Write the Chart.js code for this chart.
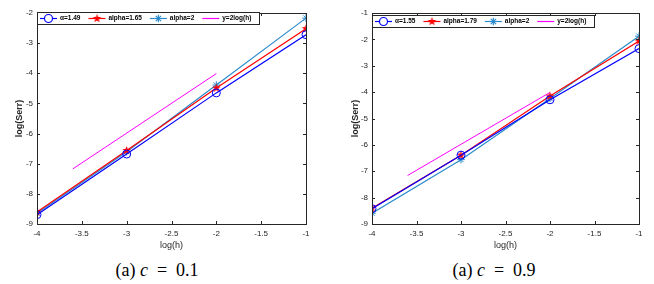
<!DOCTYPE html>
<html>
<head>
<meta charset="utf-8">
<script src="https://cdn.jsdelivr.net/npm/chart.js@4.4.1/dist/chart.umd.min.js"></script>
<style>
  body { margin: 0; background: #fff; width: 654px; height: 284px; position: relative; overflow: hidden; }
  .wrap { position: absolute; top: 0; height: 252px; }
  .cap { position: absolute; top: 260px; font-family: "Liberation Serif", "DejaVu Serif", serif; font-size: 18px; color: #000; white-space: nowrap; transform: translateX(-50%); }
  .cap i { font-style: italic; }
</style>
</head>
<body>
<div class="wrap" style="left:0;width:320px"><canvas id="chartA"></canvas></div>
<div class="wrap" style="left:327px;width:327px"><canvas id="chartB"></canvas></div>
<div class="cap" style="left:157px">(a) <i>c</i>&nbsp;&nbsp;=&nbsp;&nbsp;0.1</div>
<div class="cap" style="left:494px">(a) <i>c</i>&nbsp;&nbsp;=&nbsp;&nbsp;0.9</div>
<script>
// log(h) values
const hVals = [-4, -3, -2, -1];
const xTicks = [-4, -3.5, -3, -2.5, -2, -1.5, -1];

// c = 0.1
const labelsA = ['\u03b1=1.49', 'alpha=1.65', 'alpha=2', 'y=2log(h)'];
const errA1 = [-8.69, -6.68, -4.65, -2.72];
const errA2 = [-8.60, -6.56, -4.49, -2.52];
const errA3 = [-8.64, -6.60, -4.39, -2.17];
const refXA = [-3.6, -2];
const refYA = [-7.17, -4.01];

// c = 0.9
const labelsB = ['\u03b1=1.55', 'alpha=1.79', 'alpha=2', 'y=2log(h)'];
const errB1 = [-8.42, -6.39, -4.29, -2.35];
const errB2 = [-8.40, -6.39, -4.15, -2.06];
const errB3 = [-8.59, -6.56, -4.24, -1.88];
const refXB = [-3.6, -2];
const refYB = [-7.16, -4.01];

const BLUE = '#0000ff', RED = '#ff0000', CYAN = '#2a8bcc', MAG = '#ff00ff';

// filled pentagram marker
function pentagram(color, r) {
    const c = document.createElement('canvas');
    const s = Math.ceil(r * 2 + 2);
    c.width = s; c.height = s;
    const g = c.getContext('2d');
    g.fillStyle = color;
    g.beginPath();
    for (let i = 0; i < 10; i++) {
        const rad = i % 2 ? r * 0.42 : r;
        const a = -Math.PI / 2 + i * Math.PI / 5;
        g.lineTo(s / 2 + rad * Math.cos(a), s / 2 + rad * Math.sin(a));
    }
    g.closePath();
    g.fill();
    return c;
}
const starImg = pentagram(RED, 4.5);

const pts = (xs, ys) => xs.map((x, i) => ({ x: x, y: ys[i] }));

// box + inward ticks like matlab
const boxPlugin = {
    id: 'box',
    afterDraw(chart) {
        const { ctx, chartArea: a, scales } = chart;
        ctx.save();
        ctx.strokeStyle = '#262626';
        ctx.lineWidth = 1;
        ctx.strokeRect(a.left + 0.5, a.top + 0.5, a.right - a.left, a.bottom - a.top);
        ctx.beginPath();
        scales.x.ticks.forEach(t => {
            const px = Math.round(scales.x.getPixelForValue(t.value)) + 0.5;
            ctx.moveTo(px, a.bottom); ctx.lineTo(px, a.bottom - 3);
            ctx.moveTo(px, a.top); ctx.lineTo(px, a.top + 3);
        });
        scales.y.ticks.forEach(t => {
            const py = Math.round(scales.y.getPixelForValue(t.value)) + 0.5;
            ctx.moveTo(a.left, py); ctx.lineTo(a.left + 3, py);
            ctx.moveTo(a.right, py); ctx.lineTo(a.right - 3, py);
        });
        ctx.stroke();
        ctx.restore();
    }
};

// legend box inside the plot, top-left
const insideLegend = {
    id: 'insideLegend',
    afterDraw(chart, args, opts) {
        const { ctx, chartArea: a } = chart;
        ctx.save();
        ctx.font = 'bold 6.5px "Liberation Sans", Arial, sans-serif';
        const sets = chart.data.datasets;
        let w = 3;
        sets.forEach(d => { w += 17 + 3 + ctx.measureText(d.label).width + 8; });
        const x0 = Math.round(a.left), y0 = Math.round(a.top + opts.dy), h = 12;
        ctx.fillStyle = '#fff';
        ctx.fillRect(x0, y0, w, h);
        ctx.strokeStyle = '#262626';
        ctx.lineWidth = 1;
        ctx.strokeRect(x0 + 0.5, y0 + 0.5, Math.round(w), h);
        let x = x0 + 3;
        const cy = y0 + h / 2 + 0.5;
        sets.forEach(d => {
            ctx.strokeStyle = d.borderColor;
            ctx.lineWidth = 1.2;
            ctx.beginPath(); ctx.moveTo(x, cy); ctx.lineTo(x + 17, cy); ctx.stroke();
            if (d.pointRadius > 0) {
                Chart.helpers.drawPoint(ctx, {
                    pointStyle: d.pointStyle, radius: d.pointRadius, borderWidth: d.pointBorderWidth || 1, rotation: 0
                }, x + 8.5, cy);
            }
            x += 20;
            ctx.fillStyle = '#000';
            ctx.textBaseline = 'middle';
            ctx.fillText(d.label, x, cy);
            x += ctx.measureText(d.label).width + 8;
        });
        ctx.restore();
    }
};

function makeChart(id, labels, s1, s2, s3, rx, ry, yMin, yMax, leftW, padR, titlePad, legDy) {
    const sets = [
        { label: labels[0], data: pts(hVals, s1), borderColor: BLUE, backgroundColor: 'rgba(0,0,0,0)', pointBorderColor: BLUE, pointStyle: 'circle', pointRadius: 4, pointBorderWidth: 1, borderWidth: 1.2 },
        { label: labels[1], data: pts(hVals, s2), borderColor: RED, backgroundColor: RED, pointBorderColor: RED, pointStyle: starImg, pointRadius: 4.5, borderWidth: 1.2 },
        { label: labels[2], data: pts(hVals, s3), borderColor: CYAN, backgroundColor: CYAN, pointBorderColor: CYAN, pointStyle: 'star', pointRadius: 3.8, pointBorderWidth: 1, borderWidth: 1.2 },
        { label: labels[3], data: pts(rx, ry), borderColor: MAG, backgroundColor: MAG, pointRadius: 0, borderWidth: 1 }
    ];
    sets.forEach(d => { d.fill = false; d.tension = 0; d.pointHoverRadius = d.pointRadius; });
    const tickFont = { family: '"Liberation Sans", Arial, sans-serif', size: 8 };
    return new Chart(document.getElementById(id), {
        type: 'line',
        data: { datasets: sets },
        options: {
            responsive: true,
            maintainAspectRatio: false,
            animation: false,
            events: [],
            layout: { padding: { top: 13, right: padR, left: 0, bottom: 0 } },
            plugins: { legend: { display: false }, tooltip: { enabled: false }, insideLegend: { dy: legDy } },
            scales: {
                x: {
                    type: 'linear', min: -4, max: -1,
                    afterBuildTicks: s => { s.ticks = xTicks.map(v => ({ value: v })); },
                    afterFit: s => { s.height = 28; },
                    grid: { display: false, drawTicks: false, tickLength: 0 },
                    border: { display: false },
                    ticks: { font: tickFont, color: '#262626', padding: 5, maxRotation: 0, callback: v => String(v) },
                    title: { display: true, text: 'log(h)', font: { family: '"Liberation Sans", Arial, sans-serif', size: 9 }, color: '#262626', padding: { top: 0, bottom: 1 } }
                },
                y: {
                    type: 'linear', min: yMin, max: yMax,
                    afterFit: s => { s.width = leftW; },
                    grid: { display: false, drawTicks: false, tickLength: 0 },
                    border: { display: false },
                    ticks: { font: tickFont, color: '#262626', padding: 4, stepSize: 1, callback: v => String(v) },
                    title: { display: true, text: 'log(Serr)', font: { family: '"Liberation Sans", Arial, sans-serif', size: 9, weight: 'bold' }, color: '#262626', padding: { top: titlePad, bottom: 0 } }
                }
            }
        },
        plugins: [boxPlugin, insideLegend]
    });
}

makeChart('chartA', labelsA, errA1, errA2, errA3, refXA, refYA, -9, -2, 37, 14, 14, -1);
makeChart('chartB', labelsB, errB1, errB2, errB3, refXB, refYB, -9, -1, 45, 15, 23, 2);
</script>
</body>
</html>
